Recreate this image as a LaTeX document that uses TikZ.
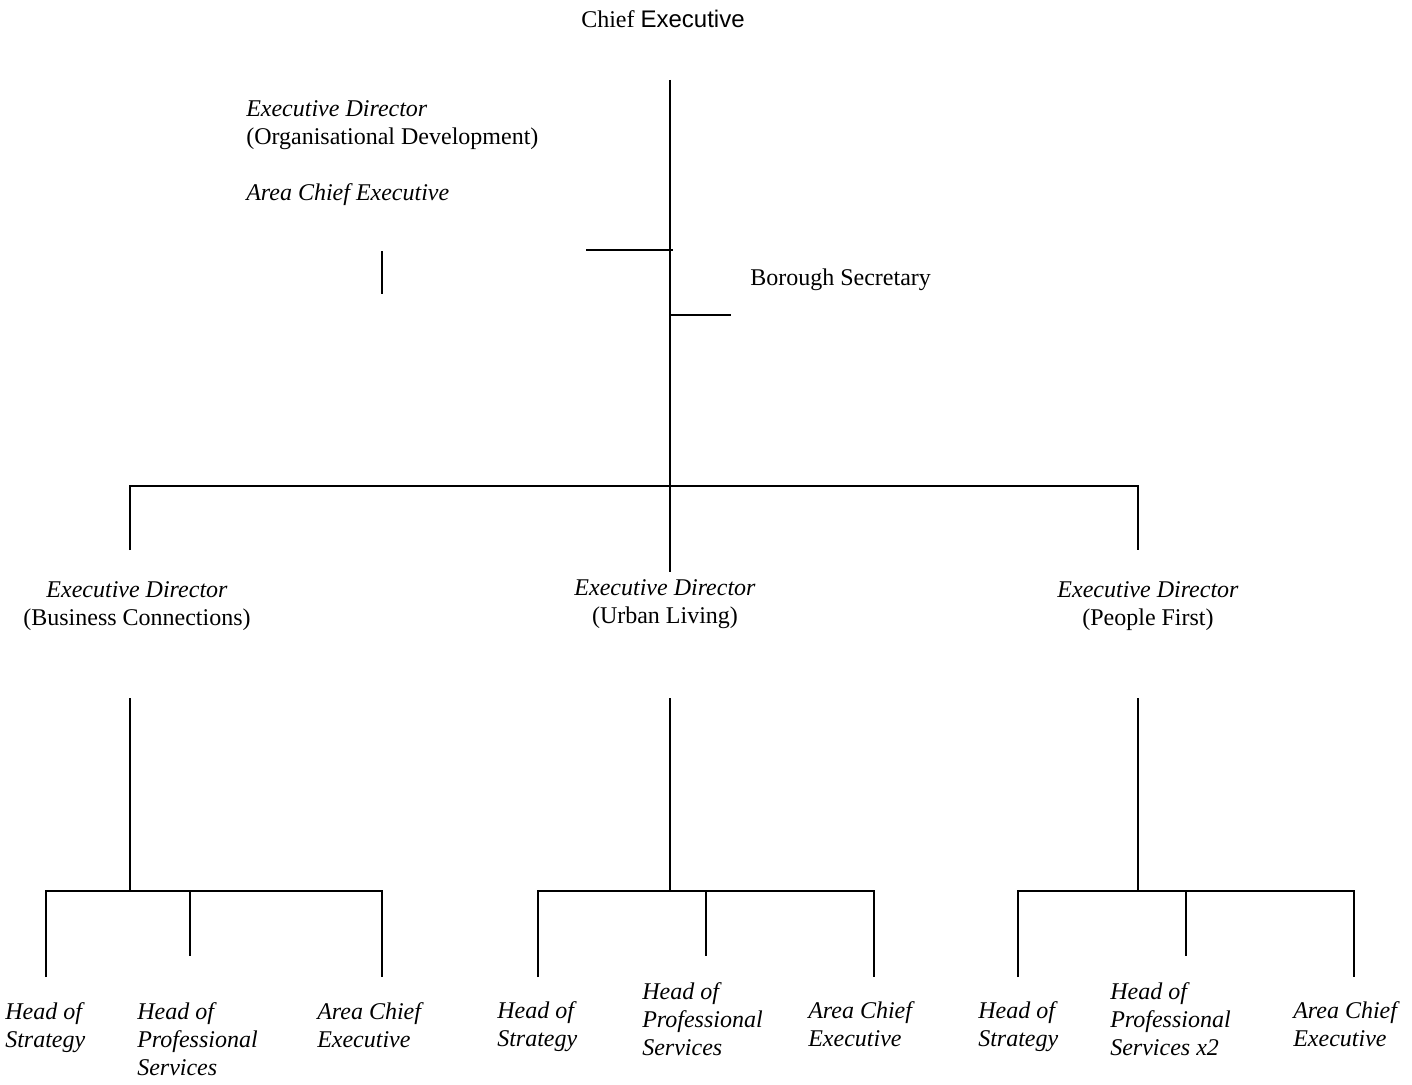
\documentclass[tikz,border=0pt]{standalone}
\usepackage{fontspec}
\setmainfont{Liberation Serif}
\newfontfamily\arialfam{Liberation Sans}
\tikzset{
  orgline/.style={line width=1.3pt},
  lbl/.style={font=\fontsize{18}{21}\selectfont,inner sep=0pt},
  post/.style={inner sep=0pt,anchor=base west,align=left,font=\fontsize{18}{21}\selectfont\itshape},
  dirlbl/.style={lbl,anchor=base,align=center},
}

\begin{document}
\begin{tikzpicture}[x=0.75pt,y=-0.75pt]
  \useasboundingbox (0,0) rectangle (1412,1084);
  \node[lbl,anchor=base west] (chief) at (581,28) {Chief {\arialfam Executive}};
  \node[lbl,anchor=base west,align=left] (edod) at (246,145) {\textit{Executive Director}\\(Organisational Development)};
  \node[lbl,anchor=base west,font=\fontsize{18}{21}\selectfont\itshape] (acetop) at (246,201) {Area Chief Executive};
  \node[lbl,anchor=base west] (borsec) at (750,285) {Borough Secretary};
  \coordinate (ceTop) at (670,80);
  \coordinate (ceOD) at (673,250);
  \coordinate (odEnd) at (586,250);
  \coordinate (aceTop) at (382,251);
  \coordinate (aceBot) at (382,294);
  \coordinate (bsJoin) at (670,315);
  \coordinate (bsEnd) at (731,315);
  \coordinate (barL) at (130,486);
  \coordinate (barR) at (1138,486);
  \coordinate (bcTip) at (130,550);
  \coordinate (ulTip) at (670,572);
  \coordinate (pfTip) at (1138,550);
  \draw[orgline] (ceTop) -- (ulTip);
  \draw[orgline] (odEnd) -- (ceOD);
  \draw[orgline] (aceTop) -- (aceBot);
  \draw[orgline] (bsJoin) -- (bsEnd);
  \draw[orgline] (bcTip) -- (barL) -- (barR) -- (pfTip);
  \node[dirlbl] (edbc) at (137,625) {\textit{Executive Director}\\(Business Connections)};
  \node[dirlbl] (edul) at (665,623) {\textit{Executive Director}\\(Urban Living)};
  \node[dirlbl] (edpf) at (1148,625) {\textit{Executive Director}\\(People First)};
  \coordinate (bcTop) at (130,698);
  \coordinate (bcBar) at (130,891);
  \coordinate (bcL) at (46,891);
  \coordinate (bcM) at (190,891);
  \coordinate (bcR) at (382,891);
  \coordinate (bcLEnd) at (46,977);
  \coordinate (bcMEnd) at (190,956);
  \coordinate (bcREnd) at (382,977);
  \draw[orgline] (bcTop) -- (bcBar);
  \draw[orgline] (bcLEnd) -- (bcL) -- (bcR) -- (bcREnd);
  \draw[orgline] (bcM) -- (bcMEnd);
  \coordinate (ulTop) at (670,698);
  \coordinate (ulBar) at (670,891);
  \coordinate (ulL) at (538,891);
  \coordinate (ulM) at (706,891);
  \coordinate (ulR) at (874,891);
  \coordinate (ulLEnd) at (538,977);
  \coordinate (ulMEnd) at (706,956);
  \coordinate (ulREnd) at (874,977);
  \draw[orgline] (ulTop) -- (ulBar);
  \draw[orgline] (ulLEnd) -- (ulL) -- (ulR) -- (ulREnd);
  \draw[orgline] (ulM) -- (ulMEnd);
  \coordinate (pfTop) at (1138,698);
  \coordinate (pfBar) at (1138,891);
  \coordinate (pfL) at (1018,891);
  \coordinate (pfM) at (1186,891);
  \coordinate (pfR) at (1354,891);
  \coordinate (pfLEnd) at (1018,977);
  \coordinate (pfMEnd) at (1186,956);
  \coordinate (pfREnd) at (1354,977);
  \draw[orgline] (pfTop) -- (pfBar);
  \draw[orgline] (pfLEnd) -- (pfL) -- (pfR) -- (pfREnd);
  \draw[orgline] (pfM) -- (pfMEnd);
  \node[post] (bcstrat) at (5,1047) {Head of\\Strategy};
  \node[post] (bcprof) at (137,1075) {Head of\\Professional\\Services};
  \node[post] (bcace) at (317,1047) {Area Chief\\Executive};
  \node[post] (ulstrat) at (497,1046) {Head of\\Strategy};
  \node[post] (ulprof) at (642,1055) {Head of\\Professional\\Services};
  \node[post] (ulace) at (808,1046) {Area Chief\\Executive};
  \node[post] (pfstrat) at (978,1046) {Head of\\Strategy};
  \node[post] (pfprof) at (1110,1055) {Head of\\Professional\\Services x2};
  \node[post] (pface) at (1293,1046) {Area Chief\\Executive};
\end{tikzpicture}
\end{document}
